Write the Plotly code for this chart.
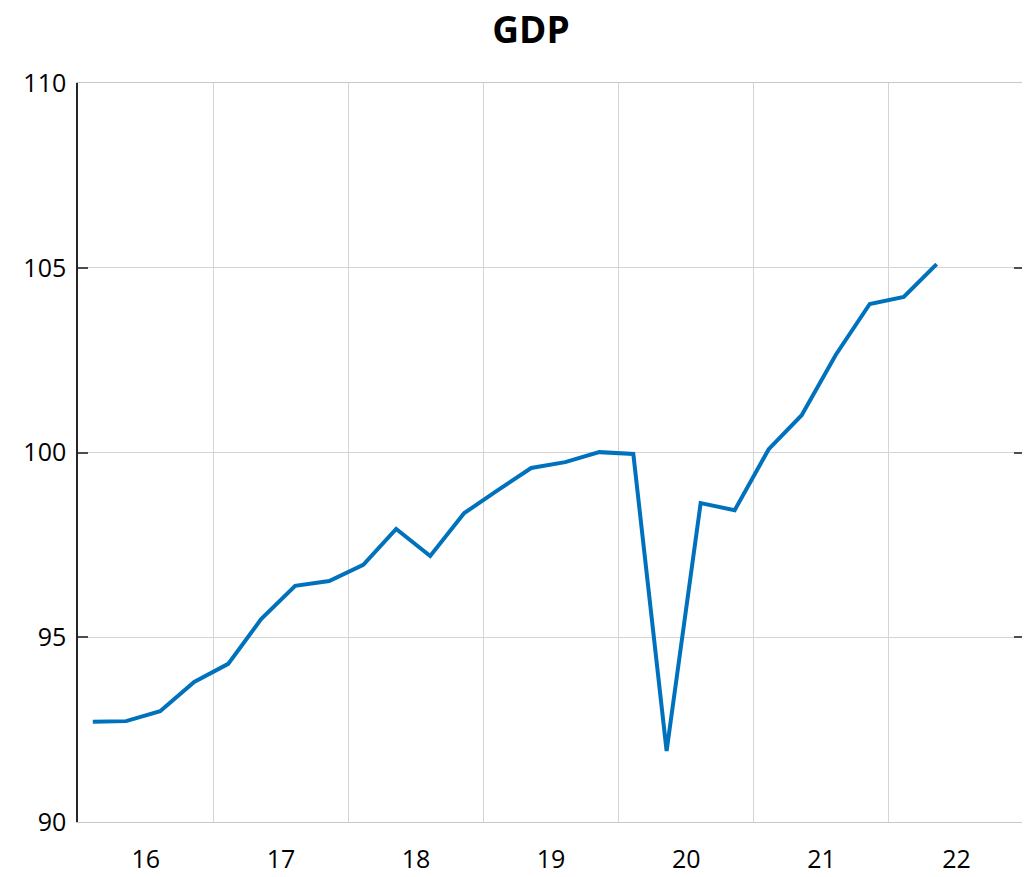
import plotly.graph_objects as go
import pandas as pd

# Quarterly GDP index (2019Q4 = 100)
quarters = [
    "2016Q1", "2016Q2", "2016Q3", "2016Q4",
    "2017Q1", "2017Q2", "2017Q3", "2017Q4",
    "2018Q1", "2018Q2", "2018Q3", "2018Q4",
    "2019Q1", "2019Q2", "2019Q3", "2019Q4",
    "2020Q1", "2020Q2", "2020Q3", "2020Q4",
    "2021Q1", "2021Q2", "2021Q3", "2021Q4",
    "2022Q1", "2022Q2",
]
gdp = [
    92.71, 92.73, 93.00, 93.79,
    94.28, 95.49, 96.39, 96.52,
    96.96, 97.93, 97.20, 98.36,
    98.99, 99.58, 99.74, 100.01,
    99.96, 91.92, 98.63, 98.44,
    100.09, 101.01, 102.64, 104.02,
    104.21, 105.10,
]
y_ticks = [90, 95, 100, 105, 110]

# Place each quarter at its middle month
dates = [pd.Period(q, freq="Q").start_time + pd.DateOffset(months=1, days=9) for q in quarters]

font = "Open Sans"

fig = go.Figure()
fig.add_trace(
    go.Scatter(
        x=dates,
        y=gdp,
        mode="lines",
        line=dict(color="#0072BD", width=4),
        showlegend=False,
    )
)

# The page body has an 8px margin, so the figure is 8px smaller than the window
fig.update_layout(
    width=1022,
    height=869,
    paper_bgcolor="white",
    plot_bgcolor="white",
    margin=dict(l=70, r=6, t=75, b=55, autoexpand=False),
    font=dict(family=font, size=25, color="black"),
    title=dict(
        text="<b>GDP</b>",
        font=dict(family=font, size=37, color="black"),
        x=523 / 1022,
        xref="container",
        xanchor="center",
        y=1,
        yanchor="top",
        pad=dict(t=9),
        automargin=False,
    ),
    xaxis=dict(
        type="date",
        range=["2016-01-01", "2023-01-01"],
        dtick="M12",
        tick0="2016-01-01",
        tickformat="%y",
        ticklabelmode="period",
        ticklabelstandoff=15,
        showgrid=True,
        gridcolor="#d4d4d4",
        gridwidth=1,
        showline=True,
        linecolor="#c8c8c8",
        linewidth=1,
        mirror=True,
        ticks="",
        zeroline=False,
        automargin=False,
    ),
    yaxis=dict(
        range=[90, 110],
        tickvals=y_ticks,
        showgrid=True,
        gridcolor="#d4d4d4",
        gridwidth=1,
        showline=True,
        linecolor="#262626",
        linewidth=1.5,
        mirror="ticks",
        ticks="inside",
        ticklen=10,
        tickcolor="#4d4d4d",
        tickwidth=1.5,
        ticklabelstandoff=5,
        zeroline=False,
        automargin=False,
    ),
)

fig.write_html("out.html")
